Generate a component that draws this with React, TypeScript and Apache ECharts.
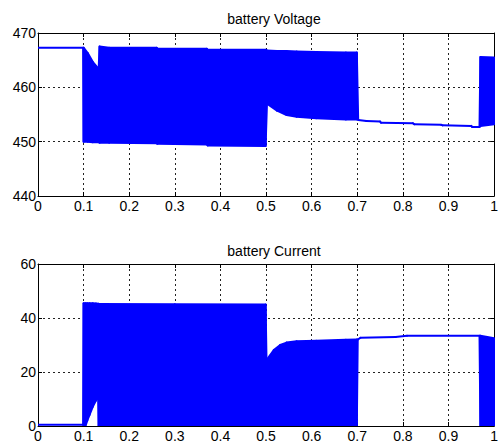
import React, { useEffect, useRef } from "react";
import * as echarts from "echarts";

// ---- battery Voltage (envelope of the high-frequency ripple) ----
const voltageT = [0, 0.099, 0.1, 0.109, 0.12, 0.133, 0.135, 0.156, 0.26, 0.262, 0.37, 0.372, 0.499, 0.502, 0.524, 0.545, 0.567, 0.61, 0.675, 0.699, 0.702, 0.72, 0.75, 0.752, 0.822, 0.825, 0.884, 0.887, 0.95, 0.952, 0.968, 0.97, 1.0];
const voltageUpper = [467.3, 467.3, 467.3, 466.3, 464.7, 463.4, 467.5, 467.3, 467.3, 467.1, 467.1, 466.9, 466.9, 466.8, 466.7, 466.7, 466.6, 466.5, 466.4, 466.4, 454.0, 453.8, 453.7, 453.5, 453.4, 453.2, 453.1, 453.0, 452.9, 452.7, 452.7, 465.6, 465.5];
const voltageLower = [467.3, 467.3, 450.0, 450.0, 449.9, 449.9, 449.8, 449.8, 449.7, 449.6, 449.5, 449.3, 449.2, 457.0, 455.7, 454.9, 454.6, 454.3, 454.1, 454.1, 454.0, 453.8, 453.7, 453.5, 453.4, 453.2, 453.1, 453.0, 452.9, 452.7, 452.7, 452.9, 453.2];

// ---- battery Current ----
const currentT = [0, 0.099, 0.1, 0.104, 0.108, 0.113, 0.12, 0.127, 0.132, 0.133, 0.3, 0.499, 0.501, 0.517, 0.531, 0.545, 0.567, 0.61, 0.675, 0.699, 0.701, 0.707, 0.784, 0.809, 0.968, 0.97, 0.985, 1.0];
const currentUpper = [0.5, 0.5, 45.5, 45.5, 45.5, 45.5, 45.5, 45.4, 45.3, 45.2, 45.1, 45.0, 24.4, 28.1, 30.0, 30.9, 31.4, 31.6, 31.9, 32.0, 32.0, 32.7, 33.0, 33.4, 33.4, 33.4, 33.0, 32.5];
const currentLower = [0.5, 0.5, 0, 0, 2.0, 4.1, 7.1, 9.4, 10.5, 0, 0, 0, 0, 0, 0, 0, 0, 0, 0, 0, 32.0, 32.7, 33.0, 33.4, 33.4, 0, 0, 0];

const timeTicks = { min: 0, max: 1, interval: 0.1 };
const voltageTicks = { min: 440, max: 470, interval: 10 };
const currentTicks = { min: 0, max: 60, interval: 20 };
const titles = ["battery Voltage", "battery Current"];

const BLUE = "#0000ff";
const FONT = "Liberation Sans, Arial, sans-serif";

function bandSeries(name: string, idx: number, t: number[], upper: number[], lower: number[]) {
  const data = t.map((x, i) => [x, upper[i], lower[i]]);
  return {
    type: "custom",
    name,
    coordinateSystem: "cartesian2d",
    xAxisIndex: idx * 2,
    yAxisIndex: idx * 2,
    data,
    encode: { x: 0, y: [1, 2] },
    clip: true,
    z: 3,
    renderItem: (params: any, api: any) => {
      const i = params.dataIndex;
      if (i >= data.length - 1) return null;
      const a = data[i];
      const b = data[i + 1];
      const pts = [
        api.coord([a[0], a[1]]),
        api.coord([b[0], b[1]]),
        api.coord([b[0], b[2]]),
        api.coord([a[0], a[2]]),
      ];
      return {
        type: "polygon",
        shape: { points: pts },
        style: { fill: BLUE, stroke: BLUE, lineWidth: 2, lineJoin: "round" },
      };
    },
  };
}

function mainX(gridIndex: number) {
  return {
    type: "value",
    gridIndex,
    position: "bottom",
    ...timeTicks,
    axisLine: { show: true, onZero: false, lineStyle: { color: "#000", width: 1 } },
    axisTick: { show: true, inside: true, length: 4, lineStyle: { color: "#000" } },
    axisLabel: { color: "#000", fontFamily: FONT, fontSize: 14, margin: 3, showMaxLabel: true, showMinLabel: true, hideOverlap: false },
    splitLine: { show: true, lineStyle: { color: "#222", type: [2, 3], width: 1 } },
  };
}
function topX(gridIndex: number) {
  return {
    type: "value",
    gridIndex,
    position: "top",
    ...timeTicks,
    axisLine: { show: true, onZero: false, lineStyle: { color: "#000", width: 1 } },
    axisTick: { show: true, inside: true, length: 4, lineStyle: { color: "#000" } },
    axisLabel: { show: false },
    splitLine: { show: false },
  };
}
function mainY(gridIndex: number, ticks: any) {
  return {
    type: "value",
    gridIndex,
    position: "left",
    ...ticks,
    axisLine: { show: true, onZero: false, lineStyle: { color: "#000", width: 1 } },
    axisTick: { show: true, inside: true, length: 4, lineStyle: { color: "#000" } },
    axisLabel: { color: "#000", fontFamily: FONT, fontSize: 14, margin: 2 },
    splitLine: { show: true, lineStyle: { color: "#222", type: [2, 3], width: 1 } },
  };
}
function rightY(gridIndex: number, ticks: any) {
  return {
    type: "value",
    gridIndex,
    position: "right",
    ...ticks,
    axisLine: { show: true, onZero: false, lineStyle: { color: "#000", width: 1 } },
    axisTick: { show: true, inside: true, length: 4, lineStyle: { color: "#000" } },
    axisLabel: { show: false },
    splitLine: { show: false },
  };
}

export default function App() {
  const ref = useRef<HTMLDivElement>(null);
  useEffect(() => {
    if (!ref.current) return;
    const chart = echarts.init(ref.current, undefined, { renderer: "svg" });
    chart.setOption({
      animation: false,
      backgroundColor: "#ffffff",
      title: [
        { text: titles[0], left: 269, top: 7, textAlign: "center", textStyle: { fontFamily: FONT, fontSize: 14, fontWeight: "normal", color: "#000" } },
        { text: titles[1], left: 269, top: 239, textAlign: "center", textStyle: { fontFamily: FONT, fontSize: 14, fontWeight: "normal", color: "#000" } },
      ],
      grid: [
        { left: 38, top: 33, width: 462, height: 163, containLabel: false },
        { left: 38, top: 264, width: 462, height: 162, containLabel: false },
      ],
      xAxis: [mainX(0), topX(0), mainX(1), topX(1)],
      yAxis: [mainY(0, voltageTicks), rightY(0, voltageTicks), mainY(1, currentTicks), rightY(1, currentTicks)],
      series: [
        bandSeries("Voltage", 0, voltageT, voltageUpper, voltageLower),
        bandSeries("Current", 1, currentT, currentUpper, currentLower),
      ],
    });
    return () => chart.dispose();
  }, []);
  return <div ref={ref} style={{ position: "absolute", left: 0, top: 0, width: 501, height: 447 }} />;
}
